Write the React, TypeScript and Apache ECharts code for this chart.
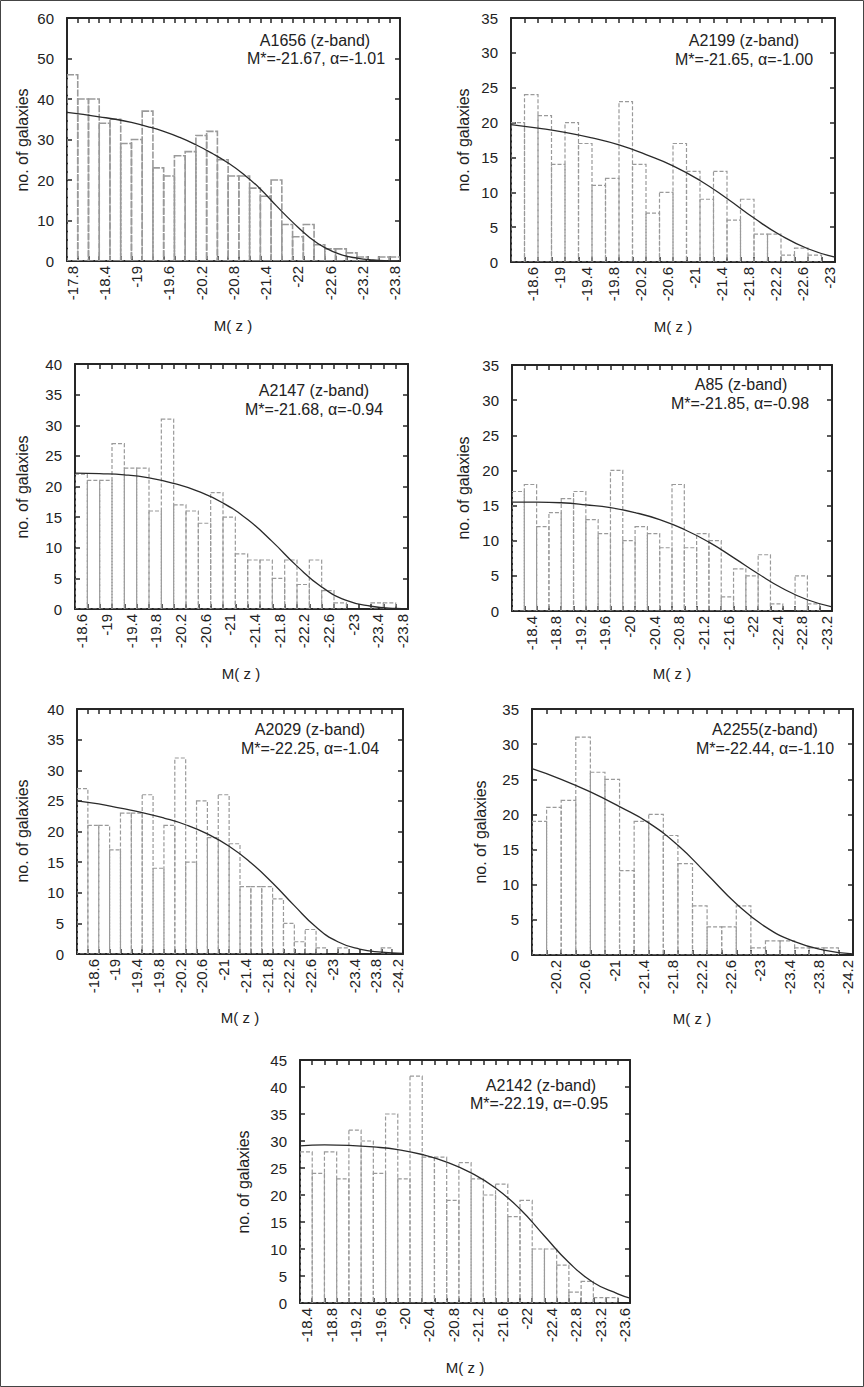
import React, { useEffect, useRef } from "react";
import * as echarts from "echarts";

// ---------- shared ----------
const BIN_WIDTH = 0.2;
const X_NAME = "M( z )";
const Y_NAME = "no. of galaxies";

// ---------- A1656 ----------
const A1656_TITLE = "A1656 (z-band)";
const A1656_PARAMS = "M*=-21.67, α=-1.01";
const A1656_X_MIN = -23.8;
const A1656_X_MAX = -17.6;
const A1656_X_LABELS = [-17.8, -18.4, -19, -19.6, -20.2, -20.8, -21.4, -22, -22.6, -23.2, -23.8];
const A1656_Y_MAX = 60;
const A1656_Y_STEP = 10;
const A1656_COUNTS = [46, 40, 40, 34, 35, 29, 30, 37, 23, 21, 26, 27, 31, 32, 25, 21, 21, 18, 16, 20, 9, 6, 9, 4, 3, 3, 2, 1, 0, 1, 1];
const A1656_FIT = [[-17.6, 36.7], [-17.9, 36.2], [-18.2, 35.6], [-18.5, 35.0], [-18.8, 34.2], [-19.1, 33.2], [-19.4, 32.0], [-19.7, 30.5], [-20.0, 28.7], [-20.3, 26.6], [-20.6, 24.2], [-20.9, 21.3], [-21.2, 17.8], [-21.5, 13.6], [-21.8, 9.6], [-22.1, 6.0], [-22.4, 3.3], [-22.7, 1.6], [-23.0, 0.7], [-23.3, 0.25], [-23.6, 0.05], [-23.8, 0.0]];

// ---------- A2199 ----------
const A2199_TITLE = "A2199 (z-band)";
const A2199_PARAMS = "M*=-21.65, α=-1.00";
const A2199_X_MIN = -23.0;
const A2199_X_MAX = -18.2;
const A2199_X_LABELS = [-18.6, -19, -19.4, -19.8, -20.2, -20.6, -21, -21.4, -21.8, -22.2, -22.6, -23];
const A2199_Y_MAX = 35;
const A2199_Y_STEP = 5;
const A2199_COUNTS = [20, 24, 21, 14, 20, 17, 11, 12, 23, 14, 7, 10, 17, 13, 9, 13, 6, 9, 4, 4, 1, 2, 1, 0];
const A2199_FIT = [[-18.2, 19.7], [-18.6, 19.2], [-19.0, 18.6], [-19.4, 17.8], [-19.8, 16.8], [-20.2, 15.4], [-20.6, 13.8], [-21.0, 11.7], [-21.4, 9.1], [-21.8, 6.3], [-22.2, 3.8], [-22.6, 1.9], [-23.0, 0.7]];

// ---------- A2147 ----------
const A2147_TITLE = "A2147 (z-band)";
const A2147_PARAMS = "M*=-21.68, α=-0.94";
const A2147_X_MIN = -23.8;
const A2147_X_MAX = -18.4;
const A2147_X_LABELS = [-18.6, -19, -19.4, -19.8, -20.2, -20.6, -21, -21.4, -21.8, -22.2, -22.6, -23, -23.4, -23.8];
const A2147_Y_MAX = 40;
const A2147_Y_STEP = 5;
const A2147_COUNTS = [22, 21, 21, 27, 23, 23, 16, 31, 17, 16, 14, 19, 15, 9, 8, 8, 5, 8, 4, 8, 3, 1, 0, 0, 1, 1, 0];
const A2147_FIT = [[-18.4, 22.2], [-18.8, 22.1], [-19.2, 21.9], [-19.6, 21.4], [-20.0, 20.5], [-20.4, 19.2], [-20.8, 17.3], [-21.2, 14.6], [-21.6, 11.0], [-22.0, 7.0], [-22.4, 3.6], [-22.8, 1.4], [-23.2, 0.45], [-23.6, 0.1], [-23.8, 0.05]];

// ---------- A85 ----------
const A85_TITLE = "A85 (z-band)";
const A85_PARAMS = "M*=-21.85, α=-0.98";
const A85_X_MIN = -23.2;
const A85_X_MAX = -18.0;
const A85_X_LABELS = [-18.4, -18.8, -19.2, -19.6, -20, -20.4, -20.8, -21.2, -21.6, -22, -22.4, -22.8, -23.2];
const A85_Y_MAX = 35;
const A85_Y_STEP = 5;
const A85_COUNTS = [17, 18, 12, 14, 16, 17, 13, 11, 20, 10, 12, 11, 9, 18, 9, 11, 10, 2, 6, 5, 8, 1, 0, 5, 1, 0];
const A85_FIT = [[-18.0, 15.5], [-18.4, 15.5], [-18.8, 15.4], [-19.2, 15.1], [-19.6, 14.7], [-20.0, 14.0], [-20.4, 13.0], [-20.8, 11.6], [-21.2, 9.8], [-21.6, 7.6], [-22.0, 5.3], [-22.4, 3.2], [-22.8, 1.6], [-23.2, 0.6]];

// ---------- A2029 ----------
const A2029_TITLE = "A2029 (z-band)";
const A2029_PARAMS = "M*=-22.25, α=-1.04";
const A2029_X_MIN = -24.2;
const A2029_X_MAX = -18.2;
const A2029_X_LABELS = [-18.6, -19, -19.4, -19.8, -20.2, -20.6, -21, -21.4, -21.8, -22.2, -22.6, -23, -23.4, -23.8, -24.2];
const A2029_Y_MAX = 40;
const A2029_Y_STEP = 5;
const A2029_COUNTS = [27, 21, 21, 17, 23, 23, 26, 14, 21, 32, 15, 25, 19, 26, 18, 11, 11, 11, 9, 5, 2, 4, 1, 0, 1, 0, 0, 0, 1, 0];
const A2029_FIT = [[-18.2, 25.0], [-18.6, 24.5], [-19.0, 23.8], [-19.4, 23.1], [-19.8, 22.2], [-20.2, 21.1], [-20.6, 19.6], [-21.0, 17.6], [-21.4, 14.9], [-21.8, 11.6], [-22.2, 7.9], [-22.6, 4.4], [-23.0, 2.0], [-23.4, 0.8], [-23.8, 0.3], [-24.2, 0.1]];

// ---------- A2255 ----------
const A2255_TITLE = "A2255(z-band)";
const A2255_PARAMS = "M*=-22.44, α=-1.10";
const A2255_X_MIN = -24.2;
const A2255_X_MAX = -19.8;
const A2255_X_LABELS = [-20.2, -20.6, -21, -21.4, -21.8, -22.2, -22.6, -23, -23.4, -23.8, -24.2];
const A2255_Y_MAX = 35;
const A2255_Y_STEP = 5;
const A2255_COUNTS = [19, 21, 22, 31, 26, 25, 12, 19, 20, 17, 13, 7, 4, 4, 7, 1, 2, 2, 1, 1, 1, 0];
const A2255_FIT = [[-19.8, 26.5], [-20.2, 25.0], [-20.6, 23.2], [-21.0, 21.1], [-21.4, 18.8], [-21.8, 15.6], [-22.2, 11.5], [-22.6, 7.3], [-23.0, 4.0], [-23.4, 1.9], [-23.8, 0.7], [-24.2, 0.15]];

// ---------- A2142 ----------
const A2142_TITLE = "A2142 (z-band)";
const A2142_PARAMS = "M*=-22.19, α=-0.95";
const A2142_X_MIN = -23.6;
const A2142_X_MAX = -18.2;
const A2142_X_LABELS = [-18.4, -18.8, -19.2, -19.6, -20, -20.4, -20.8, -21.2, -21.6, -22, -22.4, -22.8, -23.2, -23.6];
const A2142_Y_MAX = 45;
const A2142_Y_STEP = 5;
const A2142_COUNTS = [28, 24, 28, 23, 32, 30, 24, 35, 23, 42, 27, 27, 19, 26, 23, 20, 22, 16, 19, 10, 10, 7, 2, 4, 1, 1, 0];
const A2142_FIT = [[-18.2, 29.1], [-18.6, 29.3], [-19.0, 29.2], [-19.4, 28.9], [-19.8, 28.4], [-20.2, 27.5], [-20.6, 26.1], [-21.0, 24.1], [-21.4, 21.3], [-21.8, 17.4], [-22.2, 12.4], [-22.6, 7.5], [-23.0, 3.8], [-23.4, 1.7], [-23.6, 0.9]];

// ---------- panel definitions (data) ----------
const PANEL_DATA = [
  { title: A1656_TITLE, params: A1656_PARAMS, xMin: A1656_X_MIN, xMax: A1656_X_MAX, labels: A1656_X_LABELS, yMax: A1656_Y_MAX, yStep: A1656_Y_STEP, counts: A1656_COUNTS, fit: A1656_FIT },
  { title: A2199_TITLE, params: A2199_PARAMS, xMin: A2199_X_MIN, xMax: A2199_X_MAX, labels: A2199_X_LABELS, yMax: A2199_Y_MAX, yStep: A2199_Y_STEP, counts: A2199_COUNTS, fit: A2199_FIT },
  { title: A2147_TITLE, params: A2147_PARAMS, xMin: A2147_X_MIN, xMax: A2147_X_MAX, labels: A2147_X_LABELS, yMax: A2147_Y_MAX, yStep: A2147_Y_STEP, counts: A2147_COUNTS, fit: A2147_FIT },
  { title: A85_TITLE, params: A85_PARAMS, xMin: A85_X_MIN, xMax: A85_X_MAX, labels: A85_X_LABELS, yMax: A85_Y_MAX, yStep: A85_Y_STEP, counts: A85_COUNTS, fit: A85_FIT },
  { title: A2029_TITLE, params: A2029_PARAMS, xMin: A2029_X_MIN, xMax: A2029_X_MAX, labels: A2029_X_LABELS, yMax: A2029_Y_MAX, yStep: A2029_Y_STEP, counts: A2029_COUNTS, fit: A2029_FIT },
  { title: A2255_TITLE, params: A2255_PARAMS, xMin: A2255_X_MIN, xMax: A2255_X_MAX, labels: A2255_X_LABELS, yMax: A2255_Y_MAX, yStep: A2255_Y_STEP, counts: A2255_COUNTS, fit: A2255_FIT },
  { title: A2142_TITLE, params: A2142_PARAMS, xMin: A2142_X_MIN, xMax: A2142_X_MAX, labels: A2142_X_LABELS, yMax: A2142_Y_MAX, yStep: A2142_Y_STEP, counts: A2142_COUNTS, fit: A2142_FIT },
];

// ---------- layout (positions / styles only) ----------
const LAYOUT = [
  { left: 67, top: 18, width: 333, height: 243, yName: [22, 140], xName: [233, 325], t1: [315, 40], t2: [316, 58], barWidth: 1.6, barDash: [7, 1.5] },
  { left: 511, top: 18, width: 324, height: 244, yName: [463, 140], xName: [673, 326], t1: [744, 40], t2: [744, 59], barWidth: 1.2, barDash: [4, 2] },
  { left: 75, top: 364, width: 333, height: 245, yName: [22, 487], xName: [241, 673], t1: [314, 390], t2: [314, 409], barWidth: 1.2, barDash: [4, 2] },
  { left: 512, top: 365, width: 320, height: 246, yName: [463, 488], xName: [672, 673], t1: [741, 384], t2: [740, 403], barWidth: 1.2, barDash: [4, 2] },
  { left: 77, top: 709, width: 326, height: 245, yName: [22, 831], xName: [240, 1017], t1: [310, 729], t2: [310, 748], barWidth: 1.2, barDash: [4, 2] },
  { left: 532, top: 709, width: 321, height: 246, yName: [480, 832], xName: [692, 1018], t1: [765, 729], t2: [765, 748], barWidth: 1.2, barDash: [4, 2] },
  { left: 300, top: 1060, width: 330, height: 243, yName: [243, 1182], xName: [465, 1367], t1: [541, 1085], t2: [539, 1103], barWidth: 1.2, barDash: [4, 2] },
];

const FONT = '"Liberation Sans", Arial, Helvetica, sans-serif';
const TEXT_COLOR = "#222";
const FRAME_COLOR = "#262626";
const BAR_COLOR = "#9a9a9a";
const CURVE_COLOR = "#2a2a2a";

function fmtLabel(labels: number[]) {
  return (v: number) =>
    labels.some((l) => Math.abs(l - v) < 1e-6) ? String(parseFloat(v.toFixed(1))) : "";
}

function makeRenderBar(lineWidth: number, dash: number[]) {
  return function renderBar(_params: any, api: any) {
    const x0 = api.value(0);
    const x1 = api.value(1);
    const n = api.value(2);
    if (!n) return null;
    const a = api.coord([x0, n]);
    const b = api.coord([x1, 0]);
    return {
      type: "rect",
      shape: {
        x: Math.min(a[0], b[0]),
        y: a[1],
        width: Math.abs(b[0] - a[0]),
        height: b[1] - a[1],
      },
      style: { fill: "none", stroke: BAR_COLOR, lineWidth, lineDash: dash },
    };
  };
}

function buildOption() {
  const grid: any[] = [];
  const xAxis: any[] = [];
  const yAxis: any[] = [];
  const series: any[] = [];
  const graphic: any[] = [];

  const axisLine = { show: true, onZero: false, lineStyle: { color: FRAME_COLOR, width: 2 } };
  const axisTick = { show: true, inside: true, length: 5, lineStyle: { color: FRAME_COLOR, width: 1.5 } };

  graphic.push({
    type: "rect",
    shape: { x: 0.5, y: 0.5, width: 863, height: 1386 },
    style: { fill: "none", stroke: "#444", lineWidth: 1 },
    silent: true,
  });

  PANEL_DATA.forEach((p, i) => {
    const L = LAYOUT[i];
    grid.push({ left: L.left, top: L.top, width: L.width, height: L.height, containLabel: false });

    const xBase = {
      type: "value",
      gridIndex: i,
      min: p.xMin,
      max: p.xMax,
      interval: BIN_WIDTH,
      inverse: true,
      axisLine,
      axisTick,
      splitLine: { show: false },
    };
    xAxis.push({
      ...xBase,
      position: "bottom",
      axisLabel: {
        show: true,
        rotate: 90,
        margin: 5,
        fontSize: 15,
        fontFamily: FONT,
        color: TEXT_COLOR,
        align: "right",
        verticalAlign: "bottom",
        lineHeight: 11,
        showMinLabel: true,
        showMaxLabel: true,
        formatter: fmtLabel(p.labels),
      },
    });
    xAxis.push({ ...xBase, position: "top", axisLabel: { show: false } });

    const yBase = {
      type: "value",
      gridIndex: i,
      min: 0,
      max: p.yMax,
      interval: p.yStep,
      axisLine,
      axisTick,
      splitLine: { show: false },
    };
    yAxis.push({
      ...yBase,
      position: "left",
      axisLabel: { show: true, margin: 13, fontSize: 15, fontFamily: FONT, color: TEXT_COLOR },
    });
    yAxis.push({ ...yBase, position: "right", axisLabel: { show: false } });

    const bars = p.counts.map((c, k) => [p.xMax - k * BIN_WIDTH, p.xMax - (k + 1) * BIN_WIDTH, c]);
    series.push({
      type: "custom",
      xAxisIndex: 2 * i,
      yAxisIndex: 2 * i,
      data: bars,
      encode: { x: [0, 1], y: 2 },
      renderItem: makeRenderBar(L.barWidth, L.barDash),
      clip: true,
      silent: true,
      z: 1,
    });
    series.push({
      type: "line",
      xAxisIndex: 2 * i,
      yAxisIndex: 2 * i,
      data: p.fit,
      smooth: 0.5,
      showSymbol: false,
      symbol: "none",
      clip: true,
      silent: true,
      lineStyle: { color: CURVE_COLOR, width: 1.3 },
      z: 3,
    });

    const textStyle = (text: string, size: number) => ({
      text,
      x: 0,
      y: 0,
      fill: TEXT_COLOR,
      font: `${size}px ${FONT}`,
      align: "center",
      verticalAlign: "middle",
      textAlign: "center",
      textVerticalAlign: "middle",
    });
    graphic.push({ type: "text", x: L.yName[0], y: L.yName[1], rotation: Math.PI / 2, style: textStyle(Y_NAME, 16), silent: true });
    graphic.push({ type: "text", x: L.xName[0], y: L.xName[1], style: textStyle(X_NAME, 15), silent: true });
    graphic.push({ type: "text", x: L.t1[0], y: L.t1[1], style: textStyle(p.title, 16), silent: true });
    graphic.push({ type: "text", x: L.t2[0], y: L.t2[1], style: textStyle(p.params, 16), silent: true });
  });

  return {
    animation: false,
    backgroundColor: "#ffffff",
    grid,
    xAxis,
    yAxis,
    series,
    graphic,
  };
}

export default function App() {
  const ref = useRef<HTMLDivElement>(null);
  useEffect(() => {
    if (!ref.current) return;
    const chart = echarts.init(ref.current, undefined, { renderer: "svg" });
    chart.setOption(buildOption() as any);
    return () => chart.dispose();
  }, []);
  return (
    <div
      ref={ref}
      style={{ position: "absolute", left: 0, top: 0, width: 864, height: 1387, background: "#fff" }}
    />
  );
}
